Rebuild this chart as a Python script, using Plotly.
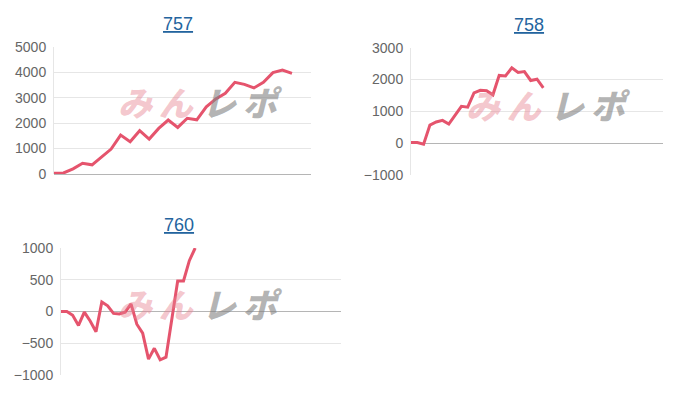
import plotly.graph_objects as go

# machine numbers
titles = ["757", "758", "760"]

# cumulative difference per sample
vals_757 = [25, 40, 200, 420, 360, 680, 980, 1530, 1270, 1700, 1370, 1790, 2120,
            1830, 2190, 2130, 2640, 2950, 3170, 3600, 3520, 3380, 3600, 3980, 4080, 3950]
vals_758 = [20, 20, -30, 570, 665, 715, 600, 900, 1160, 1130, 1580, 1660, 1650,
            1520, 2130, 2110, 2370, 2220, 2250, 1970, 2010, 1740]
vals_760 = [0, 0, -60, -220, -10, -150, -320, 150, 90, -30, -40, -10, 120, -200,
            -340, -750, -580, -760, -720, -120, 480, 480, 800, 1000]

y_ranges = [[0, 5000], [-1000, 3000], [-1000, 1000]]
y_dticks = [1000, 1000, 500]
x_spans = [27, 40, 48]

LINE = "#e5546d"
GRID = "#e6e6e6"

# page offset of the plot div (body margin)
OFF = 8
W, H = 700, 400

# plot boxes in screen pixels: (left, right, top, bottom)
boxes = [(54, 311, 46.7, 174), (411, 663, 47.7, 175), (61, 341, 248, 375)]
title_pos = [(178, 24), (529, 25), (179, 225)]
logo_pos = [(198, 101), (546, 105), (198, 303)]


def px(x):
    return (x - OFF) / W


def py(y):
    return 1 - (y - OFF) / H


fig = go.Figure()
series = [vals_757, vals_758, vals_760]

for i, (vals, box) in enumerate(zip(series, boxes)):
    n = "" if i == 0 else str(i + 1)
    fig.add_trace(go.Scatter(
        x=list(range(len(vals))), y=vals,
        mode="lines",
        line=dict(color=LINE, width=3),
        xaxis="x" + n, yaxis="y" + n,
        showlegend=False,
        hovertemplate="%{y}<extra></extra>",
    ))
    l, r, t, b = box
    fig.update_layout({
        "xaxis" + n: dict(
            domain=[px(l), px(r)], range=[0, x_spans[i]],
            showgrid=False, zeroline=False, showticklabels=False,
            automargin=False, anchor="y" + n,
        ),
        "yaxis" + n: dict(
            domain=[py(b), py(t)], range=y_ranges[i], dtick=y_dticks[i],
            gridcolor=GRID, gridwidth=1,
            zeroline=True, zerolinecolor="#b5b5b5", zerolinewidth=1,
            showline=True, linecolor=GRID, linewidth=1,
            tickfont=dict(family="Liberation Sans, Arial", size=14, color="#666"),
            ticklabelstandoff=4, automargin=False,
            anchor="x" + n,
        ),
    })

    # linked machine number title
    tx, ty = title_pos[i]
    fig.add_annotation(
        text="<u>" + titles[i] + "</u>", x=px(tx), y=py(ty),
        xanchor="center", yanchor="middle",
        xref="paper", yref="paper", showarrow=False,
        font=dict(family="Liberation Sans, Arial", size=18, color="#23649e"),
    )
    # watermark logo
    wx, wy = logo_pos[i]
    fig.add_annotation(
        text="<i>み\u2009ん</i>", x=px(wx - 2), y=py(wy),
        xanchor="right", yanchor="middle",
        xref="paper", yref="paper", showarrow=False,
        font=dict(family="Noto Sans CJK JP", size=34, weight=900,
                  color="rgba(232,130,145,0.45)"),
    )
    fig.add_annotation(
        text="<i>レ\u2009ポ</i>", x=px(wx + 2), y=py(wy),
        xanchor="left", yanchor="middle",
        xref="paper", yref="paper", showarrow=False,
        font=dict(family="Noto Sans CJK JP", size=34, weight=900,
                  color="rgba(130,130,130,0.6)"),
    )

fig.update_layout(
    width=W, height=H,
    margin=dict(l=0, r=0, t=0, b=0),
    paper_bgcolor="white",
    plot_bgcolor="white",
)

fig.write_html("out.html")
